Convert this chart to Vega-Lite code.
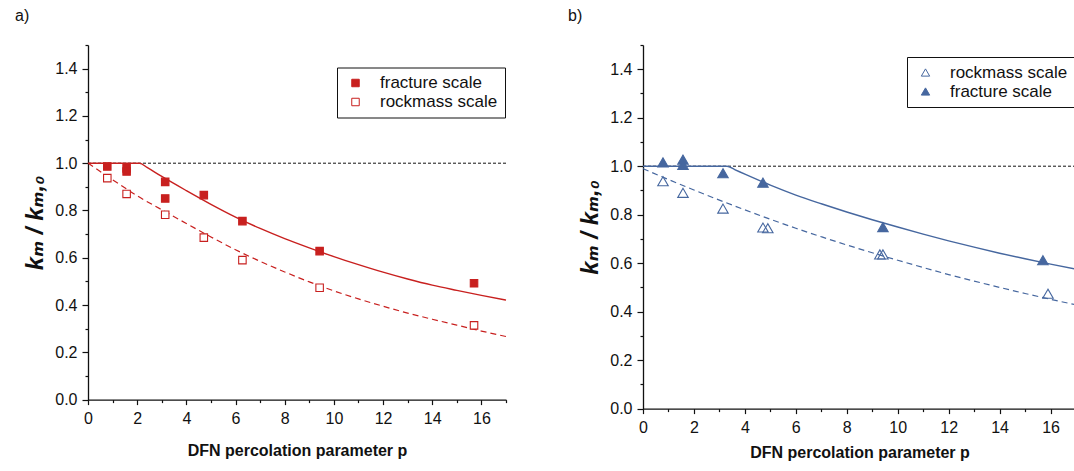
{
  "$schema": "https://vega.github.io/schema/vega-lite/v6.json",
  "padding": {"left": 15, "top": 7, "right": 0, "bottom": 0},
  "spacing": 59,
  "resolve": {
    "scale": {"fill": "independent", "stroke": "independent", "x": "independent", "y": "independent"},
    "legend": {"fill": "independent", "stroke": "independent"}
  },
  "config": {
    "font": "Liberation Sans",
    "view": {"stroke": null},
    "axis": {"grid": false, "domainColor": "#111111", "domainWidth": 1.3, "tickColor": "#111111", "tickWidth": 1.2, "labelColor": "#111111", "labelFontSize": 16, "labelFont": "Liberation Sans", "labelOverlap": false, "labelFlush": false, "labelBound": false, "titleColor": "#111111", "titleFont": "Liberation Sans", "titleFontSize": 16, "titleFontWeight": "bold"},
    "axisY": {"titleFont": "Liberation Sans, DejaVu Sans", "titleFontSize": 24, "titleFontStyle": "italic", "labelPadding": 5, "titlePadding": 7},
    "axisX": {"labelPadding": 6},
    "legend": {"strokeColor": "#111111", "fillColor": "white", "padding": 7, "labelFontSize": 17, "labelFont": "Liberation Sans", "labelColor": "#111111", "labelOffset": 16, "rowPadding": 1, "symbolOffset": 3, "symbolStrokeWidth": 1},
    "title": {"fontSize": 16, "fontWeight": "normal", "anchor": "start", "frame": "group", "color": "#111111", "font": "Liberation Sans"}
  },
  "datasets": {
    "a_pts": [
      {"series": "fracture scale", "p": 0.785, "k": 0.986},
      {"series": "fracture scale", "p": 1.57, "k": 0.978},
      {"series": "fracture scale", "p": 1.57, "k": 0.965},
      {"series": "fracture scale", "p": 3.14, "k": 0.921},
      {"series": "fracture scale", "p": 3.14, "k": 0.851},
      {"series": "fracture scale", "p": 4.71, "k": 0.865},
      {"series": "fracture scale", "p": 6.28, "k": 0.755},
      {"series": "fracture scale", "p": 9.42, "k": 0.628},
      {"series": "fracture scale", "p": 15.7, "k": 0.492},
      {"series": "rockmass scale", "p": 0.785, "k": 0.937},
      {"series": "rockmass scale", "p": 1.57, "k": 0.87},
      {"series": "rockmass scale", "p": 3.14, "k": 0.782},
      {"series": "rockmass scale", "p": 4.71, "k": 0.685},
      {"series": "rockmass scale", "p": 6.28, "k": 0.59},
      {"series": "rockmass scale", "p": 9.42, "k": 0.473},
      {"series": "rockmass scale", "p": 15.7, "k": 0.314}
    ],
    "a_fit": [
      {"series": "fracture scale", "p": 0, "k": 1.0},
      {"series": "fracture scale", "p": 2.1, "k": 1.0},
      {"series": "fracture scale", "p": 2.4, "k": 0.982},
      {"series": "fracture scale", "p": 3, "k": 0.944},
      {"series": "fracture scale", "p": 4, "k": 0.884},
      {"series": "fracture scale", "p": 5, "k": 0.826},
      {"series": "fracture scale", "p": 6, "k": 0.772},
      {"series": "fracture scale", "p": 7, "k": 0.724},
      {"series": "fracture scale", "p": 8, "k": 0.681},
      {"series": "fracture scale", "p": 9, "k": 0.642},
      {"series": "fracture scale", "p": 10, "k": 0.605},
      {"series": "fracture scale", "p": 11, "k": 0.571},
      {"series": "fracture scale", "p": 12, "k": 0.539},
      {"series": "fracture scale", "p": 13, "k": 0.51},
      {"series": "fracture scale", "p": 14, "k": 0.484},
      {"series": "fracture scale", "p": 15, "k": 0.462},
      {"series": "fracture scale", "p": 16, "k": 0.441},
      {"series": "fracture scale", "p": 17, "k": 0.421},
      {"series": "rockmass scale", "p": 0, "k": 1.0},
      {"series": "rockmass scale", "p": 1, "k": 0.93},
      {"series": "rockmass scale", "p": 2, "k": 0.862},
      {"series": "rockmass scale", "p": 3, "k": 0.803},
      {"series": "rockmass scale", "p": 4, "k": 0.745},
      {"series": "rockmass scale", "p": 5, "k": 0.688},
      {"series": "rockmass scale", "p": 6, "k": 0.634},
      {"series": "rockmass scale", "p": 7, "k": 0.585},
      {"series": "rockmass scale", "p": 8, "k": 0.54},
      {"series": "rockmass scale", "p": 9, "k": 0.498},
      {"series": "rockmass scale", "p": 10, "k": 0.46},
      {"series": "rockmass scale", "p": 11, "k": 0.426},
      {"series": "rockmass scale", "p": 12, "k": 0.395},
      {"series": "rockmass scale", "p": 13, "k": 0.366},
      {"series": "rockmass scale", "p": 14, "k": 0.34},
      {"series": "rockmass scale", "p": 15, "k": 0.315},
      {"series": "rockmass scale", "p": 16, "k": 0.29},
      {"series": "rockmass scale", "p": 17, "k": 0.267}
    ],
    "b_pts": [
      {"series": "fracture scale", "p": 0.785, "k": 1.016},
      {"series": "fracture scale", "p": 1.57, "k": 1.027},
      {"series": "fracture scale", "p": 1.57, "k": 1.005},
      {"series": "fracture scale", "p": 3.14, "k": 0.971},
      {"series": "fracture scale", "p": 4.71, "k": 0.932},
      {"series": "fracture scale", "p": 9.42, "k": 0.749},
      {"series": "fracture scale", "p": 15.7, "k": 0.612},
      {"series": "rockmass scale", "p": 0.785, "k": 0.938},
      {"series": "rockmass scale", "p": 1.57, "k": 0.89},
      {"series": "rockmass scale", "p": 3.14, "k": 0.825},
      {"series": "rockmass scale", "p": 4.71, "k": 0.747},
      {"series": "rockmass scale", "p": 4.9, "k": 0.744},
      {"series": "rockmass scale", "p": 9.3, "k": 0.636},
      {"series": "rockmass scale", "p": 9.42, "k": 0.636},
      {"series": "rockmass scale", "p": 15.9, "k": 0.474}
    ],
    "b_fit": [
      {"series": "fracture scale", "p": 0, "k": 1.0},
      {"series": "fracture scale", "p": 3.3, "k": 1.0},
      {"series": "fracture scale", "p": 3.6, "k": 0.986},
      {"series": "fracture scale", "p": 4, "k": 0.967},
      {"series": "fracture scale", "p": 5, "k": 0.922},
      {"series": "fracture scale", "p": 6, "k": 0.881},
      {"series": "fracture scale", "p": 7, "k": 0.845},
      {"series": "fracture scale", "p": 8, "k": 0.811},
      {"series": "fracture scale", "p": 9, "k": 0.779},
      {"series": "fracture scale", "p": 10, "k": 0.749},
      {"series": "fracture scale", "p": 11, "k": 0.72},
      {"series": "fracture scale", "p": 12, "k": 0.692},
      {"series": "fracture scale", "p": 13, "k": 0.666},
      {"series": "fracture scale", "p": 14, "k": 0.641},
      {"series": "fracture scale", "p": 15, "k": 0.618},
      {"series": "fracture scale", "p": 16, "k": 0.596},
      {"series": "fracture scale", "p": 17, "k": 0.575},
      {"series": "rockmass scale", "p": 0, "k": 0.99},
      {"series": "rockmass scale", "p": 1, "k": 0.945},
      {"series": "rockmass scale", "p": 2, "k": 0.902},
      {"series": "rockmass scale", "p": 3, "k": 0.86},
      {"series": "rockmass scale", "p": 4, "k": 0.82},
      {"series": "rockmass scale", "p": 5, "k": 0.781},
      {"series": "rockmass scale", "p": 6, "k": 0.744},
      {"series": "rockmass scale", "p": 7, "k": 0.709},
      {"series": "rockmass scale", "p": 8, "k": 0.675},
      {"series": "rockmass scale", "p": 9, "k": 0.643},
      {"series": "rockmass scale", "p": 10, "k": 0.612},
      {"series": "rockmass scale", "p": 11, "k": 0.582},
      {"series": "rockmass scale", "p": 12, "k": 0.553},
      {"series": "rockmass scale", "p": 13, "k": 0.526},
      {"series": "rockmass scale", "p": 14, "k": 0.5},
      {"series": "rockmass scale", "p": 15, "k": 0.475},
      {"series": "rockmass scale", "p": 16, "k": 0.451},
      {"series": "rockmass scale", "p": 17, "k": 0.428}
    ],
    "ref": [{"k": 1.0}]
  },
  "hconcat": [
    {
      "width": 418,
      "height": 354.6,
      "title": {"text": "a)", "dx": -73, "offset": 13.5},
      "layer": [
        {
          "data": {"name": "ref"},
          "mark": {"type": "rule", "color": "#111111", "strokeWidth": 1, "strokeDash": [3, 2]},
          "encoding": {
            "y": {"field": "k", "type": "quantitative", "scale": {"domain": [0, 1.5], "nice": false, "zero": false},
              "axis": {"title": "kₘ / kₘ,₀", "values": [0, 0.1, 0.2, 0.3, 0.4, 0.5, 0.6, 0.7, 0.8, 0.9, 1.0, 1.1, 1.2, 1.3, 1.4, 1.5], "format": ".1f", "labelExpr": "round(datum.value*10) % 2 === 0 ? datum.label : ''", "tickSize": {"condition": {"test": "round(datum.value*10) % 2 === 0", "value": 6}, "value": 3}}}
          }
        },
        {
          "data": {"name": "a_fit"},
          "transform": [{"filter": "datum.series === 'fracture scale'"}],
          "mark": {"type": "line", "color": "#c8201f", "strokeWidth": 1.4, "interpolate": "monotone"},
          "encoding": {
            "x": {"field": "p", "type": "quantitative", "scale": {"domain": [0, 17], "nice": false, "zero": false},
              "axis": {"title": "DFN percolation parameter p", "titlePadding": 16, "values": [0, 1, 2, 3, 4, 5, 6, 7, 8, 9, 10, 11, 12, 13, 14, 15, 16, 17], "labelExpr": "datum.value % 2 === 0 ? datum.label : ''", "tickSize": {"condition": {"test": "datum.value % 2 === 0", "value": 5}, "value": 3}}},
            "y": {"field": "k", "type": "quantitative", "scale": {"domain": [0, 1.5], "nice": false, "zero": false},
              "axis": {"title": "kₘ / kₘ,₀", "values": [0, 0.1, 0.2, 0.3, 0.4, 0.5, 0.6, 0.7, 0.8, 0.9, 1.0, 1.1, 1.2, 1.3, 1.4, 1.5], "format": ".1f", "labelExpr": "round(datum.value*10) % 2 === 0 ? datum.label : ''", "tickSize": {"condition": {"test": "round(datum.value*10) % 2 === 0", "value": 6}, "value": 3}}}
          }
        },
        {
          "data": {"name": "a_fit"},
          "transform": [{"filter": "datum.series === 'rockmass scale'"}],
          "mark": {"type": "line", "color": "#c8201f", "strokeWidth": 1.2, "strokeDash": [6, 4], "interpolate": "monotone"},
          "encoding": {
            "x": {"field": "p", "type": "quantitative", "scale": {"domain": [0, 17], "nice": false, "zero": false},
              "axis": {"title": "DFN percolation parameter p", "titlePadding": 16, "values": [0, 1, 2, 3, 4, 5, 6, 7, 8, 9, 10, 11, 12, 13, 14, 15, 16, 17], "labelExpr": "datum.value % 2 === 0 ? datum.label : ''", "tickSize": {"condition": {"test": "datum.value % 2 === 0", "value": 5}, "value": 3}}},
            "y": {"field": "k", "type": "quantitative", "scale": {"domain": [0, 1.5], "nice": false, "zero": false},
              "axis": {"title": "kₘ / kₘ,₀", "values": [0, 0.1, 0.2, 0.3, 0.4, 0.5, 0.6, 0.7, 0.8, 0.9, 1.0, 1.1, 1.2, 1.3, 1.4, 1.5], "format": ".1f", "labelExpr": "round(datum.value*10) % 2 === 0 ? datum.label : ''", "tickSize": {"condition": {"test": "round(datum.value*10) % 2 === 0", "value": 6}, "value": 3}}}
          }
        },
        {
          "data": {"name": "a_pts"},
          "mark": {"type": "point", "shape": "square", "size": 56, "opacity": 1, "strokeWidth": 1.1},
          "encoding": {
            "x": {"field": "p", "type": "quantitative", "scale": {"domain": [0, 17], "nice": false, "zero": false},
              "axis": {"title": "DFN percolation parameter p", "titlePadding": 16, "values": [0, 1, 2, 3, 4, 5, 6, 7, 8, 9, 10, 11, 12, 13, 14, 15, 16, 17], "labelExpr": "datum.value % 2 === 0 ? datum.label : ''", "tickSize": {"condition": {"test": "datum.value % 2 === 0", "value": 5}, "value": 3}}},
            "y": {"field": "k", "type": "quantitative", "scale": {"domain": [0, 1.5], "nice": false, "zero": false},
              "axis": {"title": "kₘ / kₘ,₀", "values": [0, 0.1, 0.2, 0.3, 0.4, 0.5, 0.6, 0.7, 0.8, 0.9, 1.0, 1.1, 1.2, 1.3, 1.4, 1.5], "format": ".1f", "labelExpr": "round(datum.value*10) % 2 === 0 ? datum.label : ''", "tickSize": {"condition": {"test": "round(datum.value*10) % 2 === 0", "value": 6}, "value": 3}}},
            "fill": {"field": "series", "type": "nominal", "scale": {"domain": ["fracture scale", "rockmass scale"], "range": ["#c8201f", "white"]}, "legend": {"title": null, "orient": "none", "legendX": 249, "legendY": 22.5, "symbolSize": 56}},
            "stroke": {"field": "series", "type": "nominal", "scale": {"domain": ["fracture scale", "rockmass scale"], "range": ["#c8201f", "#c8201f"]}, "legend": {"title": null, "orient": "none", "legendX": 249, "legendY": 22.5, "symbolSize": 56}}
          }
        }
      ]
    },
    {
      "width": 433,
      "height": 363.6,
      "title": {"text": "b)", "dx": -75, "offset": 13.5},
      "layer": [
        {
          "data": {"name": "ref"},
          "mark": {"type": "rule", "color": "#111111", "strokeWidth": 1, "strokeDash": [3, 2]},
          "encoding": {
            "y": {"field": "k", "type": "quantitative", "scale": {"domain": [0, 1.5], "nice": false, "zero": false},
              "axis": {"title": "kₘ / kₘ,₀", "values": [0, 0.1, 0.2, 0.3, 0.4, 0.5, 0.6, 0.7, 0.8, 0.9, 1.0, 1.1, 1.2, 1.3, 1.4, 1.5], "format": ".1f", "labelExpr": "round(datum.value*10) % 2 === 0 ? datum.label : ''", "tickSize": {"condition": {"test": "round(datum.value*10) % 2 === 0", "value": 6}, "value": 3}}}
          }
        },
        {
          "data": {"name": "b_fit"},
          "transform": [{"filter": "datum.series === 'fracture scale'"}],
          "mark": {"type": "line", "color": "#46679f", "strokeWidth": 1.4, "interpolate": "monotone"},
          "encoding": {
            "x": {"field": "p", "type": "quantitative", "scale": {"domain": [0, 17], "nice": false, "zero": false},
              "axis": {"title": "DFN percolation parameter p", "titlePadding": 9, "values": [0, 1, 2, 3, 4, 5, 6, 7, 8, 9, 10, 11, 12, 13, 14, 15, 16, 17], "labelExpr": "datum.value % 2 === 0 ? datum.label : ''", "tickSize": {"condition": {"test": "datum.value % 2 === 0", "value": 5}, "value": 3}}},
            "y": {"field": "k", "type": "quantitative", "scale": {"domain": [0, 1.5], "nice": false, "zero": false},
              "axis": {"title": "kₘ / kₘ,₀", "values": [0, 0.1, 0.2, 0.3, 0.4, 0.5, 0.6, 0.7, 0.8, 0.9, 1.0, 1.1, 1.2, 1.3, 1.4, 1.5], "format": ".1f", "labelExpr": "round(datum.value*10) % 2 === 0 ? datum.label : ''", "tickSize": {"condition": {"test": "round(datum.value*10) % 2 === 0", "value": 6}, "value": 3}}}
          }
        },
        {
          "data": {"name": "b_fit"},
          "transform": [{"filter": "datum.series === 'rockmass scale'"}],
          "mark": {"type": "line", "color": "#46679f", "strokeWidth": 1.2, "strokeDash": [6, 4], "interpolate": "monotone"},
          "encoding": {
            "x": {"field": "p", "type": "quantitative", "scale": {"domain": [0, 17], "nice": false, "zero": false},
              "axis": {"title": "DFN percolation parameter p", "titlePadding": 9, "values": [0, 1, 2, 3, 4, 5, 6, 7, 8, 9, 10, 11, 12, 13, 14, 15, 16, 17], "labelExpr": "datum.value % 2 === 0 ? datum.label : ''", "tickSize": {"condition": {"test": "datum.value % 2 === 0", "value": 5}, "value": 3}}},
            "y": {"field": "k", "type": "quantitative", "scale": {"domain": [0, 1.5], "nice": false, "zero": false},
              "axis": {"title": "kₘ / kₘ,₀", "values": [0, 0.1, 0.2, 0.3, 0.4, 0.5, 0.6, 0.7, 0.8, 0.9, 1.0, 1.1, 1.2, 1.3, 1.4, 1.5], "format": ".1f", "labelExpr": "round(datum.value*10) % 2 === 0 ? datum.label : ''", "tickSize": {"condition": {"test": "round(datum.value*10) % 2 === 0", "value": 6}, "value": 3}}}
          }
        },
        {
          "data": {"name": "b_pts"},
          "mark": {"type": "point", "shape": "triangle-up", "size": 110, "opacity": 1, "strokeWidth": 1.1},
          "encoding": {
            "x": {"field": "p", "type": "quantitative", "scale": {"domain": [0, 17], "nice": false, "zero": false},
              "axis": {"title": "DFN percolation parameter p", "titlePadding": 9, "values": [0, 1, 2, 3, 4, 5, 6, 7, 8, 9, 10, 11, 12, 13, 14, 15, 16, 17], "labelExpr": "datum.value % 2 === 0 ? datum.label : ''", "tickSize": {"condition": {"test": "datum.value % 2 === 0", "value": 5}, "value": 3}}},
            "y": {"field": "k", "type": "quantitative", "scale": {"domain": [0, 1.5], "nice": false, "zero": false},
              "axis": {"title": "kₘ / kₘ,₀", "values": [0, 0.1, 0.2, 0.3, 0.4, 0.5, 0.6, 0.7, 0.8, 0.9, 1.0, 1.1, 1.2, 1.3, 1.4, 1.5], "format": ".1f", "labelExpr": "round(datum.value*10) % 2 === 0 ? datum.label : ''", "tickSize": {"condition": {"test": "round(datum.value*10) % 2 === 0", "value": 6}, "value": 3}}},
            "fill": {"field": "series", "type": "nominal", "scale": {"domain": ["rockmass scale", "fracture scale"], "range": ["transparent", "#46679f"]}, "legend": {"title": null, "orient": "none", "legendX": 264, "legendY": 12, "symbolSize": 70}},
            "stroke": {"field": "series", "type": "nominal", "scale": {"domain": ["rockmass scale", "fracture scale"], "range": ["#46679f", "#46679f"]}, "legend": {"title": null, "orient": "none", "legendX": 264, "legendY": 12, "symbolSize": 70}}
          }
        }
      ]
    }
  ]
}
